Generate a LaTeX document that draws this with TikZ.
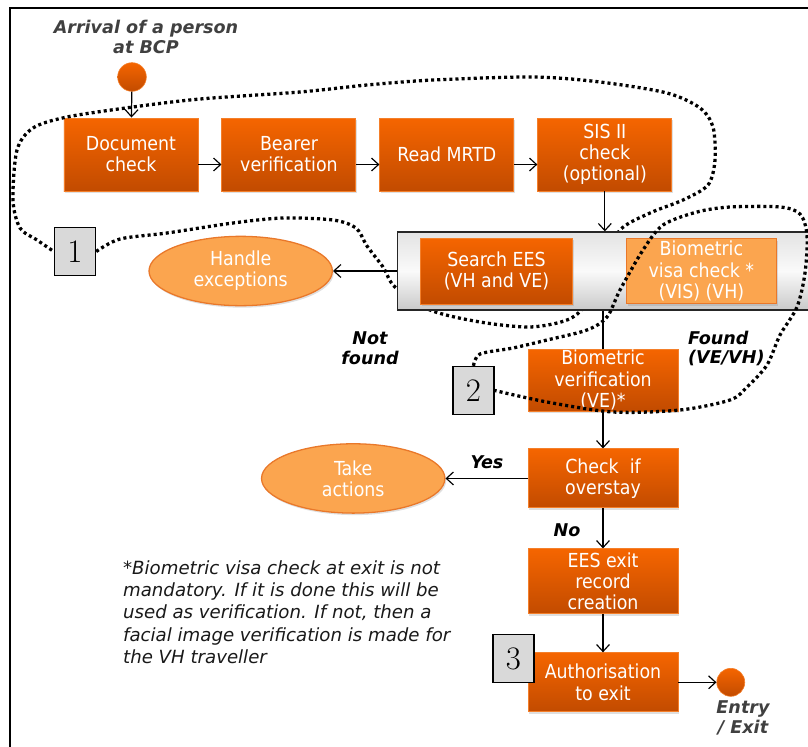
\documentclass[tikz,border=0pt]{standalone}
\usepackage{fontspec}
\newfontfamily\boxfont{DejaVu Sans Condensed}
\newfontfamily\cuefont{DejaVu Sans}
\usepackage{xcolor}
\usepackage{tikz}
\usetikzlibrary{positioning,shapes.geometric,shadows,arrows.meta}

\definecolor{orangetop}{HTML}{F56500}
\definecolor{orangebot}{HTML}{C24B00}
\definecolor{orangeline}{HTML}{F47F2A}
\definecolor{softorange}{HTML}{FBA54F}
\definecolor{softline}{HTML}{E9782A}
\definecolor{cuegray}{HTML}{404040}
\definecolor{tagfill}{HTML}{D9D9D9}

\begin{document}
\begin{tikzpicture}[x=0.03cm, y=-0.03cm, node distance = 0.69cm, >={Straight Barb[length=6pt,width=11pt]}]
            \tikzstyle{task} = [rectangle, draw=orangeline, line width=0.8pt, top color=orangetop, bottom color=orangebot, text=white, font=\boxfont\fontsize{16.5}{18}\selectfont, align=center, inner sep=1pt, minimum width=4.02cm, minimum height=2.19cm, drop shadow={opacity=0.25, shadow xshift=0.04cm, shadow yshift=-0.06cm}];
            \tikzstyle{softtask} = [task, top color=softorange, bottom color=softorange, draw=softline];
            \tikzstyle{outcome} = [ellipse, draw=softline, line width=1.1pt, fill=softorange, text=white, font=\boxfont\fontsize{16.5}{18}\selectfont, align=center, minimum width=5.5cm, minimum height=2.08cm, drop shadow={opacity=0.25, shadow xshift=0.04cm, shadow yshift=-0.06cm}];
            \tikzstyle{marker} = [circle, top color=orangetop, bottom color=orangebot, draw=orangeline, line width=0.5pt, inner sep=0pt, minimum size=0.86cm];
            \tikzstyle{panel} = [rectangle, draw=black!85, line width=1.1pt, top color=gray!22, bottom color=gray!42, middle color=gray!4, minimum width=12.54cm, minimum height=2.34cm];
            \tikzstyle{tag} = [rectangle, draw=black, line width=1.2pt, fill=tagfill, inner sep=0pt, minimum width=1.23cm, minimum height=1.44cm, font=\fontsize{28}{28}\selectfont];
            \tikzstyle{cue} = [font=\cuefont\bfseries\itshape\fontsize{15}{17}\selectfont, align=center];
            \tikzstyle{trail} = [line width=2.8pt, dash pattern=on 2.6pt off 2.6pt];
            \tikzstyle{link} = [->, line width=1pt];

            \useasboundingbox (0,0) rectangle (808,746);
            \clip (0,0) rectangle (808,746);
            \draw [line width=1.6pt] (10,8) rectangle (840,780);

            \node [cue, text=cuegray] (T0) at (146,37) {Arrival of a person\\at BCP};
            \node [marker] (C0) at (132,77) {};

            \node [task] (S1) at (131,154.5) {Document\\check};
            \node [task, right = of S1] (S2) {Bearer\\verification};
            \node [task, right = of S2] (S3) {Read MRTD};
            \node [task, right = of S3] (S4) {SIS II\\check\\(optional)};

            \draw [link] (C0) to (S1);
            \draw [link] ([yshift=-0.3cm]S1.east) to ([yshift=-0.3cm]S2.west);
            \draw [link] ([yshift=-0.3cm]S2.east) to ([yshift=-0.3cm]S3.west);
            \draw [link] ([yshift=-0.3cm]S3.east) to ([yshift=-0.3cm]S4.west);

            \node [tag] (N1) at (75,251.5) {1};
            \draw [trail] plot [smooth] coordinates {(N1.east) (120,239) (167,233) (233,223) (283,218) (333,220) (356,228) (367,246) (383,267) (395,287) (430,310) (480,322) (530,327) (567,320) (585,305) (603,265) (620,230) (650,213) (683,200) (708,185) (715,160) (713,127) (700,108) (667,93) (600,82) (533,77) (433,80) (367,85) (300,92) (200,99) (133,107) (67,117) (33,128) (17,150) (13,200) (20,228) (37,240) (N1.west)};

            \node [panel, anchor=west] (G) at (397,271) {};
            \node [task, anchor=west, minimum width=4.56cm, minimum height=1.98cm] (S5) at ([xshift=0.69cm]G.west) {Search EES\\(VH and VE)};
            \node [softtask, right = 1.59cm of S5, minimum width=4.5cm, minimum height=1.95cm] (S6) {Biometric\\visa check *\\(VIS) (VH)};
            \node [outcome, left = 1.92cm of G] (E1) {Handle\\exceptions};

            \draw [link] (S4.south) to (S4.south |- G.north);
            \draw [link] (G) to (E1);

            \node [task, minimum width=4.5cm, minimum height=1.86cm] (S7) at (603,380) {Biometric\\verification\\(VE)*};
            \node [task, below = 1.11cm of S7, minimum width=4.5cm, minimum height=1.77cm] (S8) {Check\ \ if\\overstay};
            \node [task, below = 1.2cm of S8, minimum width=4.5cm, minimum height=1.95cm] (S9) {EES exit\\record\\creation};
            \node [task, below = 1.14cm of S9, minimum width=4.5cm, minimum height=1.77cm] (S10) {Authorisation\\to exit};
            \node [outcome, left = 2.46cm of S8] (E2) {Take\\actions};
            \node [marker, right = 1.14cm of S10, minimum size=0.84cm] (C1) {};

            \draw [line width=1pt] (S7.north |- G.south) to (S7.north);
            \draw [link] (S7) to (S8);
            \draw [link] (S8) to (E2);
            \draw [link] (S8) to (S9);
            \draw [link] (S9) to (S10);
            \draw [link] (S10) to (C1);

            \node [cue] (T1) at (370,348.5) {Not\\found};
            \node [cue, anchor=west, align=left] (T2) at (684,348.5) {Found\\(VE/VH)};
            \node [cue] (T3) at (487,462) {Yes};
            \node [cue] (T4) at (567,530) {No};
            \node [cue, text=cuegray] (T5) at (743,718) {Entry\\/ Exit};
            \node [anchor=north west, align=left, text=black!90, font=\cuefont\itshape\fontsize{15.5}{18.8}\selectfont] (T6) at (119,557) {*Biometric visa check at exit is not\\mandatory. If it is done this will be\\used as verification. If not, then a\\facial image verification is made for\\the VH traveller};

            \node [tag] (N2) at (473.5,390.5) {2};
            \draw [trail] plot [smooth] coordinates {(N2.north) (480,354) (513,348) (547,340) (587,330) (607,317) (620,290) (643,250) (663,225) (697,212) (730,207) (780,207) (800,214) (807,235) (805,273) (797,307) (780,335) (767,365) (747,387) (730,400) (680,410) (613,412) (547,402) (N2.east)};

            \node [tag] (N3) at (513.5,658.5) {3};
        \end{tikzpicture}
\end{document}
